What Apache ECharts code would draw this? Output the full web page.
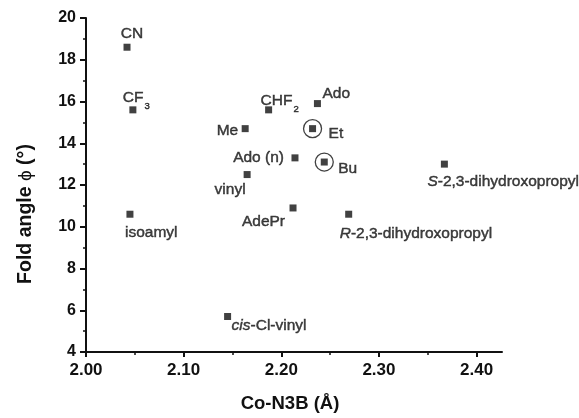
<!DOCTYPE html>
<html>
<head>
<meta charset="utf-8">
<script src="https://cdn.jsdelivr.net/npm/echarts@6/dist/echarts.min.js"></script>
<style>
html,body{margin:0;padding:0;background:#fff;}
#chart{width:579px;height:418px;}
</style>
</head>
<body>
<div id="chart"></div>
<script>
// ---- data ----
const labels = ['CN', 'CF3', 'Me', 'CHF2', 'Ado (n)', 'vinyl', 'Ado', 'Et', 'Bu',
  'S-2,3-dihydroxopropyl', 'AdePr', 'R-2,3-dihydroxopropyl', 'isoamyl', 'cis-Cl-vinyl'];
const coN3B = [2.042, 2.048, 2.163, 2.187, 2.214, 2.165, 2.237, 2.232, 2.244,
  2.367, 2.212, 2.269, 2.045, 2.145];
const foldAngle = [18.6, 15.6, 14.7, 15.6, 13.3, 12.5, 15.9, 14.7, 13.1,
  13.0, 10.9, 10.6, 10.6, 5.7];
const circled = ['Et', 'Bu'];
const xTickValues = [2.0, 2.1, 2.2, 2.3, 2.4];
const xMinorTickValues = [2.05, 2.15, 2.25, 2.35];

// ---- presentation ----
const FONT = '"Liberation Sans", Arial, Helvetica, sans-serif';
const INK = '#111';
const richText = {
  'CF3': '{n|CF}{s|3}',
  'CHF2': '{n|CHF}{s|2}',
  'S-2,3-dihydroxopropyl': '{i|S}{n|-2,3-dihydroxopropyl}',
  'R-2,3-dihydroxopropyl': '{i|R}{n|-2,3-dihydroxopropyl}',
  'cis-Cl-vinyl': '{i|cis}{n|-Cl-vinyl}'
};
// [align, dx, dy] relative to the marker centre
const labelPlace = {
  'CN': ['center', 5, -14],
  'CF3': ['left', -10, -12.5],
  'Me': ['right', -7, 2],
  'CHF2': ['left', -8, -9],
  'Ado (n)': ['right', -11, 0],
  'vinyl': ['center', -17, 15],
  'Ado': ['left', 5, -10],
  'Et': ['left', 16, 5],
  'Bu': ['left', 14, 7],
  'S-2,3-dihydroxopropyl': ['left', -17, 18],
  'AdePr': ['right', -8, 14],
  'R-2,3-dihydroxopropyl': ['left', -9, 19],
  'isoamyl': ['left', -5, 18],
  'cis-Cl-vinyl': ['left', 4, 9]
};
const stroke = {textBorderColor: INK, textBorderWidth: 0.45};
const rich = {
  n: Object.assign({fontFamily: FONT, fontSize: 15.5, color: INK}, stroke),
  i: Object.assign({fontFamily: FONT, fontSize: 15.5, color: INK, fontStyle: 'italic'}, stroke),
  s: Object.assign({fontFamily: FONT, fontSize: 9.5, color: INK, padding: [18, 0, 0, 1]}, stroke)
};

const pointData = labels.map((name, k) => {
  const p = labelPlace[name];
  return {
    name: name,
    value: [coN3B[k], foldAngle[k]],
    label: {
      show: true,
      position: 'inside',
      align: p[0],
      verticalAlign: 'middle',
      offset: [p[1], p[2]],
      formatter: richText[name] || ('{n|' + name + '}'),
      rich: rich
    }
  };
});
const circleData = labels.map((name, k) => circled.indexOf(name) >= 0 ? [coN3B[k], foldAngle[k]] : null)
  .filter(v => v);

const chart = echarts.init(document.getElementById('chart'), null, {renderer: 'canvas'});
chart.setOption({
  animation: false,
  backgroundColor: '#fff',
  grid: {left: 86, right: 77, top: 18, bottom: 64},
  xAxis: [{
    type: 'value',
    min: 2.0, max: 2.426,
    name: 'Co-N3B (Å)',
    nameLocation: 'middle',
    nameGap: 42,
    nameTextStyle: {fontFamily: FONT, fontSize: 18.5, fontWeight: 'bold', color: INK, padding: [0, 8, 0, 0]},
    axisLine: {show: true, lineStyle: {color: INK, width: 2}},
    axisTick: {show: true, length: 5, lineStyle: {color: INK, width: 2}, customValues: xTickValues},
    axisLabel: {show: true, margin: 10, fontFamily: FONT, fontSize: 17, fontWeight: 'bold', color: INK,
      customValues: xTickValues, formatter: v => v.toFixed(2)},
    splitLine: {show: false}
  }, {
    type: 'value',
    min: 2.0, max: 2.426,
    position: 'bottom',
    axisLine: {show: false},
    axisTick: {show: true, length: 3, lineStyle: {color: INK, width: 1.5}, customValues: xMinorTickValues},
    axisLabel: {show: false},
    splitLine: {show: false}
  }],
  yAxis: {
    type: 'value',
    min: 4, max: 20, interval: 2,
    name: 'Fold angle {p|ϕ} (°)',
    nameLocation: 'middle',
    nameGap: 50,
    nameRotate: 90,
    nameTextStyle: {fontFamily: FONT, fontSize: 19.5, fontWeight: 'bold', color: INK, padding: [0, 58, 0, 0],
      rich: {p: {fontFamily: FONT, fontSize: 19, fontWeight: 'normal', color: INK}}},
    axisLine: {show: true, lineStyle: {color: INK, width: 2}},
    axisTick: {show: true, length: 6, lineStyle: {color: INK, width: 2}},
    minorTick: {show: true, splitNumber: 2, length: 3, lineStyle: {color: INK, width: 1.5}},
    axisLabel: {margin: 10, fontFamily: FONT, fontSize: 16, fontWeight: 'bold', color: INK},
    splitLine: {show: false},
    minorSplitLine: {show: false}
  },
  series: [{
    type: 'scatter',
    symbol: 'rect',
    symbolSize: 7,
    itemStyle: {color: INK},
    data: pointData,
    z: 3
  }, {
    type: 'scatter',
    symbol: 'circle',
    symbolSize: 18,
    itemStyle: {color: 'rgba(0,0,0,0)', borderColor: INK, borderWidth: 1.3},
    data: circleData,
    silent: true,
    z: 2
  }]
});
</script>
</body>
</html>
